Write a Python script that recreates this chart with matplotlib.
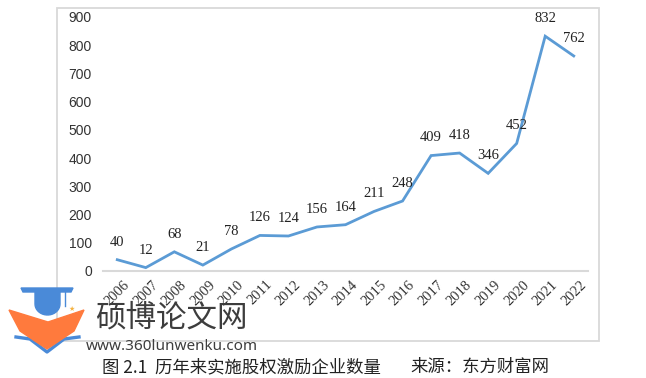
import matplotlib
matplotlib.use("Agg")
import numpy as np
import matplotlib.pyplot as plt
from matplotlib.patches import Rectangle, Polygon
from matplotlib.lines import Line2D

years = ["2006", "2007", "2008", "2009", "2010", "2011", "2012", "2013", "2014",
         "2015", "2016", "2017", "2018", "2019", "2020", "2021", "2022"]
counts = [40, 12, 68, 21, 78, 126, 124, 156, 164, 211, 248, 409, 418, 346, 452, 832, 762]
y_ticks = [0, 100, 200, 300, 400, 500, 600, 700, 800, 900]
caption_left = "图 2.1  历年来实施股权激励企业数量"
caption_right = "来源：东方财富网"
wm_title = "硕博论文网"
wm_url = "www.360lunwenku.com"

W, H = 646, 378
fig = plt.figure(figsize=(W / 100, H / 100), dpi=100)


def fx(x):
    return x / W


def fy(y):
    return 1 - y / H


def pts(seq):
    return [(fx(a), fy(b)) for a, b in seq]


# chart frame
fig.patches.append(Rectangle((fx(57), fy(341)), fx(599) - fx(57), fy(8) - fy(341),
                             transform=fig.transFigure, fill=False,
                             edgecolor="#d9d9d9", lw=1.3, zorder=0))

ax = fig.add_axes([fx(103), fy(271), fx(588) - fx(103), fy(17) - fy(271)])
x = list(range(len(years)))
ax.plot(x, counts, color="#5b9bd5", lw=2.0, solid_joinstyle="miter", zorder=3)
for xi, v in zip(x, counts):
    ax.annotate(str(v), (xi, v), xytext=(0, 8), textcoords="offset points",
                ha="center", va="bottom", fontsize=10.5,
                family="Liberation Serif", color="#222222")

ax.set_xlim(-0.5, len(years) - 0.5)
ax.set_ylim(0, 900)
ax.set_yticks(y_ticks)
ax.set_yticklabels([str(t) for t in y_ticks], family="Liberation Sans",
                   fontsize=10, color="#333333")
ax.set_xticks(x)
ax.set_xticklabels(years, rotation=45, ha="center", va="top",
                   family="Liberation Serif", fontsize=10.5, color="#333333")
ax.tick_params(axis="y", length=0, pad=8)
ax.tick_params(axis="x", length=0, pad=5)
for s in ["left", "right", "top"]:
    ax.spines[s].set_visible(False)
ax.spines["bottom"].set_color("#d9d9d9")
ax.spines["bottom"].set_linewidth(1.5)
ax.patch.set_visible(False)

# watermark logo
blue = "#4a8ad8"
orange = "#ff7a3d"
fig.patches.append(Polygon(pts([(21, 288), (73, 288), (71, 292), (23, 292)]),
                           transform=fig.transFigure, color=blue, zorder=5))
theta = np.linspace(0, np.pi, 20)
bowl = [(35, 292), (60, 292)] + [(47.5 + 12.5 * np.cos(t), 304 + 11 * np.sin(t)) for t in theta]
fig.patches.append(Polygon(pts(bowl), transform=fig.transFigure, color=blue, zorder=5))
fig.lines.append(Line2D([fx(65), fx(65)], [fy(290), fy(306)], transform=fig.transFigure,
                        color=blue, lw=1.0, zorder=5))
fig.text(fx(72), fy(309), "★", color="#f5b342", fontsize=5, ha="center", va="center",
         family="DejaVu Sans", zorder=6)
fig.patches.append(Polygon(pts([(9, 310), (48, 322), (84, 310), (74, 331),
                                (47, 349), (20, 331)]),
                           transform=fig.transFigure, color=orange, zorder=5))
fig.lines.append(Line2D([fx(16), fx(30), fx(47), fx(64), fx(79)],
                        [fy(337), fy(339), fy(352), fy(339), fy(337)],
                        transform=fig.transFigure, color=blue, lw=2.4, zorder=4))
fig.text(fx(95), fy(318), wm_title, family=["Noto Sans CJK SC", "DejaVu Sans"],
         fontsize=22, color="#3d3d3d", ha="left", va="center", zorder=6)
fig.text(fx(86), fy(346), wm_url, family="Noto Sans", fontsize=11,
         color="#3d3d3d", ha="left", va="center", zorder=6)

fig.text(fx(102), fy(367), caption_left, family=["Noto Sans CJK SC", "DejaVu Sans"],
         fontsize=12.5, color="#222222", ha="left", va="center")
fig.text(fx(410), fy(367), caption_right, family=["Noto Sans CJK SC", "DejaVu Sans"],
         fontsize=12.5, color="#222222", ha="left", va="center")

fig.savefig("out.png", dpi=100)
